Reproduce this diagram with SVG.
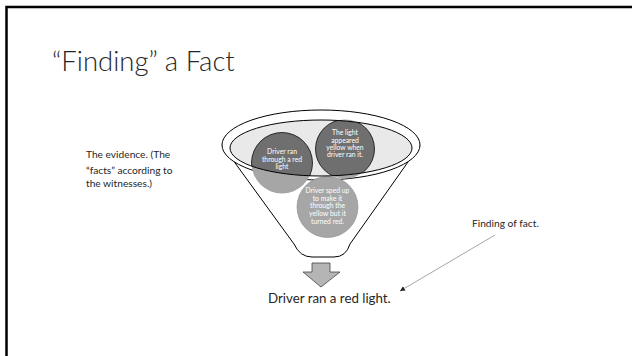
<svg xmlns="http://www.w3.org/2000/svg" width="632" height="356" viewBox="0 0 632 356">
<style>
.t{font-family:Lato,"Open Sans","Liberation Sans",sans-serif;fill:#262626}
.w{font-family:Lato,"Open Sans","Liberation Sans",sans-serif;fill:#fff;font-size:6.8px;text-anchor:middle}
.lc{fill:#a6a6a6}
.dc{fill:#6f6f6f;stroke:#111;stroke-width:0.8}
</style>
<defs>
<clipPath id="inner"><ellipse cx="321" cy="148" rx="91" ry="28"/></clipPath>
<marker id="ah" markerWidth="6" markerHeight="6" refX="5" refY="3" orient="auto" markerUnits="userSpaceOnUse"><path d="M0,0.5 L5,3 L0,5.5 Z" fill="#222"/></marker>
</defs>
<rect x="6.5" y="7" width="700" height="400" fill="#fff" stroke="#000" stroke-width="2.5"/>
<text class="t" x="52" y="71" font-size="27.5" font-weight="300">“Finding” a Fact</text>
<g id="funnel">
<path d="M222,145 L294,244 Q300,257 312,257 L334,257 Q346,257 350,244 L420,145" fill="#fff" stroke="#000" stroke-width="1"/>
<ellipse cx="321" cy="145" rx="99" ry="35" fill="#fff" stroke="#000" stroke-width="1"/>
<ellipse cx="321" cy="148" rx="91" ry="28" fill="#e9e9e9" stroke="none"/>
</g>
<g id="c1">
<circle class="lc" cx="282" cy="163" r="30.5"/>
<circle class="dc" cx="282" cy="163" r="30.5" clip-path="url(#inner)"/>
<text class="w" x="282" y="154">Driver ran</text>
<text class="w" x="282" y="161.5">through a red</text>
<text class="w" x="282" y="169">light</text>
</g>
<g id="c2">
<circle class="lc" cx="345" cy="149" r="29.5"/>
<circle class="dc" cx="345" cy="149" r="29.5" clip-path="url(#inner)"/>
<text class="w" x="345" y="135">The light</text>
<text class="w" x="345" y="142.5">appeared</text>
<text class="w" x="345" y="149.5">yellow when</text>
<text class="w" x="345" y="157">driver ran it.</text>
</g>
<g id="c3">
<circle cx="327.5" cy="207" r="30.5" fill="#a6a6a6" stroke="#8a8a8a" stroke-width="0.6"/>
<text class="w" x="327.5" y="193">Driver sped up</text>
<text class="w" x="327.5" y="200.5">to make it</text>
<text class="w" x="327.5" y="208">through the</text>
<text class="w" x="327.5" y="215.5">yellow but it</text>
<text class="w" x="327.5" y="223.5">turned red.</text>
</g>
<ellipse cx="321" cy="148" rx="91" ry="28" fill="none" stroke="#000" stroke-width="1"/>
<g id="arrow">
<path d="M312,263 L330,263 L330,272 L340,272 L321,287 L303,272 L312,272 Z" fill="#b5b5b5" stroke="#444" stroke-width="0.8"/>
</g>
<text class="t" x="86" y="158" font-size="10.2">The evidence. (The</text>
<text class="t" x="86" y="173.5" font-size="10.2">“facts” according to</text>
<text class="t" x="86" y="187" font-size="10.2">the witnesses.)</text>
<text class="t" x="472" y="227" font-size="10.2">Finding of fact.</text>
<text class="t" x="268" y="303" font-size="13.3">Driver ran a red light.</text>
<g id="connectors">
<line x1="495" y1="235" x2="400" y2="291" stroke="#888" stroke-width="0.75" marker-end="url(#ah)"/>
</g>
</svg>
